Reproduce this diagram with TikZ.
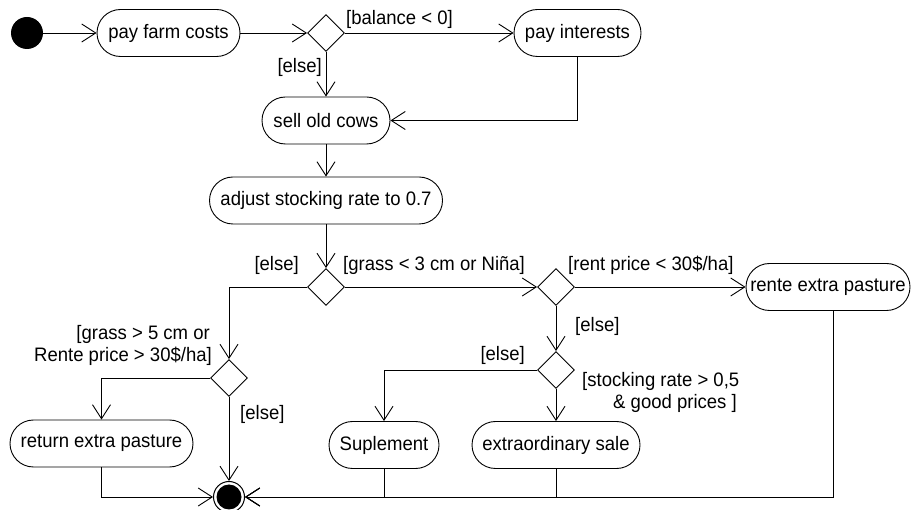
\documentclass[tikz,border=0pt]{standalone}
\usepackage{fontspec}
\setmainfont[FakeStretch=0.95]{Liberation Sans}
\usetikzlibrary{arrows.meta,shapes.geometric}
\begin{document}
\begin{tikzpicture}[x=1pt,y=-1pt,
  font=\fontsize{19.5}{22}\selectfont,
  act/.style={draw, rounded corners=23.5pt, minimum height=47pt, inner sep=0pt, line width=0.9pt},
  dec/.style={draw, diamond, minimum width=37pt, minimum height=37pt, inner sep=0pt, line width=0.9pt},
  flow/.style={line width=0.9pt, -{Straight Barb[length=14pt,width=18pt]}},
  lab/.style={inner sep=0pt}]
\fill[white] (0,0) rectangle (911,510);
\useasboundingbox (0,0) rectangle (911,510);
% nodes
\node[circle, fill, minimum size=32pt, inner sep=0pt] (start) at (27,33) {};
\node[act, minimum width=143pt] (pfc) at (168.5,33) {pay farm costs};
\node[dec] (d1) at (326,33) {};
\node[act, minimum width=127pt] (pi) at (577.5,33) {pay interests};
\node[act, minimum width=128pt] (soc) at (326,120.5) {sell old cows};
\node[act, minimum width=233pt] (adj) at (326,200.5) {adjust stocking rate to 0.7};
\node[dec] (d2) at (326,287) {};
\node[dec] (d3) at (229,378) {};
\node[dec] (d4) at (556,287) {};
\node[dec] (d5) at (556,370) {};
\node[act, minimum width=164pt] (rente) at (828,287) {rente extra pasture};
\node[act, minimum width=183pt] (rep) at (101.5,443.5) {return extra pasture};
\node[act, minimum width=110pt] (sup) at (384,445) {Suplement};
\node[act, minimum width=168pt] (ext) at (556,445) {extraordinary sale};
\node[circle, draw, line width=1pt, minimum size=31pt, inner sep=0pt] (end) at (229,497) {};
\fill (end.center) circle (12.5pt);
% connectors
\draw[flow] (start) -- (pfc);
\draw[flow] (pfc) -- (d1);
\draw[flow] (d1) -- (pi);
\draw[flow] (d1) -- (soc);
\draw[flow] (pi.south) |- (soc.east);
\draw[flow] (soc) -- (adj);
\draw[flow] (adj) -- (d2);
\draw[flow] (d2) -- (d4);
\draw[flow] (d2.west) -| (d3.north);
\draw[flow] (d4) -- (rente);
\draw[flow] (d4) -- (d5);
\draw[flow] (d5) -- (ext);
\draw[flow] (d5.west) -| (sup.north);
\draw[flow] (d3.west) -| (rep.north);
\draw[flow] (d3) -- (end);
\draw[flow] (rep.south) |- (end.west);
\draw[flow] (sup.south) |- (end.east);
\draw[flow] (ext.south) |- (end.east);
\draw[flow] ([xshift=5pt]rente.south) |- (end.east);
% labels
\node[lab, anchor=base west] (l1) at (346,25) {[balance < 0]};
\node[lab, anchor=base east] (l2) at (322,73) {[else]};
\node[lab, anchor=base east] (l3) at (299,271) {[else]};
\node[lab, anchor=base west] (l4) at (343,271) {[grass < 3 cm or Niña]};
\node[lab, anchor=base west] (l5) at (568,271) {[rent price < 30\$/ha]};
\node[lab, anchor=base west] (l6) at (575,332) {[else]};
\node[lab, anchor=base east] (l7) at (525,361) {[else]};
\node[lab, anchor=base east] (l8a) at (210,340) {[grass > 5 cm or};
\node[lab, anchor=base east] (l8b) at (212,362) {Rente price > 30\$/ha]};
\node[lab, anchor=base west] (l9) at (240,420) {[else]};
\node[lab, anchor=base west] (l10a) at (582,387) {[stocking rate > 0,5};
\node[lab, anchor=base east] (l10b) at (737,409) {\& good prices ]};
\end{tikzpicture}
\end{document}
